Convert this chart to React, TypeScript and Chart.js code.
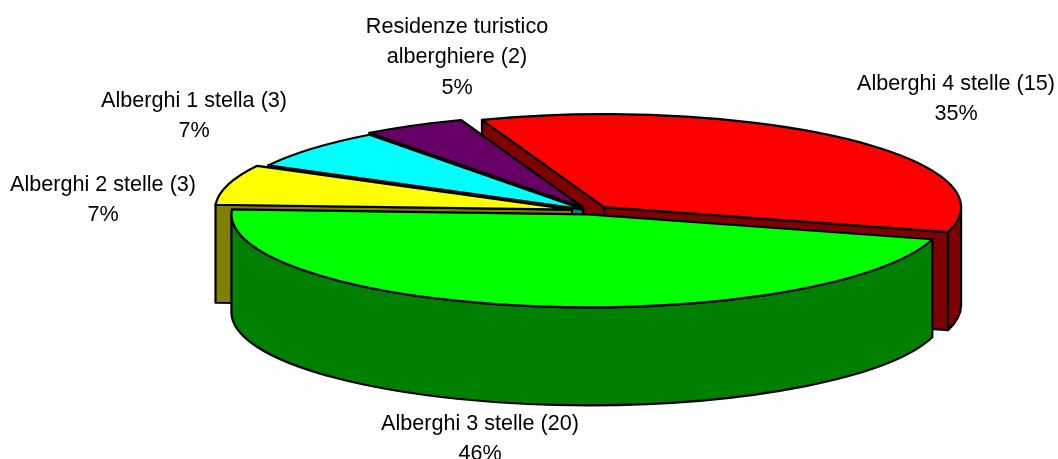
import React, { useEffect, useRef } from "react";
import { Chart, registerables } from "chart.js";

Chart.register(...registerables);

const categories = [
  "Alberghi 4 stelle",
  "Alberghi 3 stelle",
  "Alberghi 2 stelle",
  "Alberghi 1 stella",
  "Residenze turistico\nalberghiere",
];
const counts = [15, 20, 3, 3, 2];
const percentLabels = ["35%", "46%", "7%", "7%", "5%"];
const topColors = ["#FF0000", "#00FF00", "#FFFF00", "#00FFFF", "#660066"];
const sideColors = ["#800000", "#008000", "#808000", "#008080", "#330033"];
const sliceOffsets = [12.5, 8, 12, 6.2, 9.8];
const drawOrder = [0, 4, 3, 2, 1];
const labelAnchors = [
  [956, 90],
  [480, 430],
  [103, 191],
  [194, 107],
  [457, 33],
];

const CX = 590.5;
const CY = 211;
const RX = 357;
const RY = 93;
const DEPTH = 98;
const LINE_H = 30.3;

const pie3d = {
  id: "pie3d",
  beforeDatasetDraw(chart: any, args: any) {
    const ctx: CanvasRenderingContext2D = chart.ctx;
    const arcs = chart.getDatasetMeta(args.index).data;
    ctx.save();
    ctx.lineWidth = 2.2;
    ctx.strokeStyle = "#000";
    ctx.lineJoin = "round";
    const paint = (fill: string) => {
      ctx.fillStyle = fill;
      ctx.fill();
      ctx.stroke();
    };
    for (const i of drawOrder) {
      const arc = arcs[i];
      const p = arc.getProps(["startAngle", "endAngle", "outerRadius"], true);
      const a = p.startAngle;
      const b = p.endAngle;
      const R = p.outerRadius;
      const sx = RX / R;
      const sy = RY / R;
      const mid = (a + b) / 2;
      const off = arc.options.offset;
      const x0 = CX + Math.cos(mid) * off * sx;
      const y0 = CY + Math.sin(mid) * off * sy;
      const rimX = (t: number) => x0 + Math.cos(t) * RX;
      const rimY = (t: number) => y0 + Math.sin(t) * RY;
      const radialWall = (t: number) => {
        ctx.beginPath();
        ctx.moveTo(x0, y0);
        ctx.lineTo(rimX(t), rimY(t));
        ctx.lineTo(rimX(t), rimY(t) + DEPTH);
        ctx.lineTo(x0, y0 + DEPTH);
        ctx.closePath();
        paint(sideColors[i]);
      };
      if (Math.cos(a) < 0) radialWall(a);
      if (Math.cos(b) > 0) radialWall(b);
      const from = Math.max(a, 0);
      const to = Math.min(b, Math.PI);
      if (to > from) {
        ctx.beginPath();
        ctx.ellipse(x0, y0, RX, RY, 0, from, to);
        ctx.lineTo(rimX(to), rimY(to) + DEPTH);
        ctx.ellipse(x0, y0 + DEPTH, RX, RY, 0, to, from, true);
        ctx.closePath();
        paint(sideColors[i]);
      }
      ctx.beginPath();
      ctx.moveTo(x0, y0);
      ctx.ellipse(x0, y0, RX, RY, 0, a, b);
      ctx.closePath();
      paint(topColors[i]);
    }
    ctx.restore();
    return false;
  },
  afterDatasetsDraw(chart: any) {
    const ctx: CanvasRenderingContext2D = chart.ctx;
    ctx.save();
    ctx.fillStyle = "#000";
    ctx.font = '21.6px "Liberation Sans", Arial, sans-serif';
    ctx.textAlign = "center";
    ctx.textBaseline = "alphabetic";
    categories.forEach((name, i) => {
      const lines = `${name} (${counts[i]})`.split("\n").concat(percentLabels[i]);
      lines.forEach((line, k) => {
        ctx.fillText(line, labelAnchors[i][0], labelAnchors[i][1] + k * LINE_H);
      });
    });
    ctx.restore();
  },
};

export default function App() {
  const ref = useRef<HTMLCanvasElement | null>(null);
  useEffect(() => {
    const chart = new Chart(ref.current as HTMLCanvasElement, {
      type: "pie",
      data: {
        labels: categories,
        datasets: [
          {
            data: counts,
            backgroundColor: topColors,
            borderColor: "#000",
            borderWidth: 0,
            offset: sliceOffsets,
          },
        ],
      },
      options: {
        responsive: false,
        animation: false,
        events: [],
        rotation: -20,
        plugins: { legend: { display: false }, tooltip: { enabled: false } },
      },
      plugins: [pie3d],
    } as any);
    return () => chart.destroy();
  }, []);
  return (
    <canvas
      ref={ref}
      width={1058}
      height={459}
      style={{ position: "absolute", left: 0, top: 0, width: 1058, height: 459, background: "#fff" }}
    />
  );
}
